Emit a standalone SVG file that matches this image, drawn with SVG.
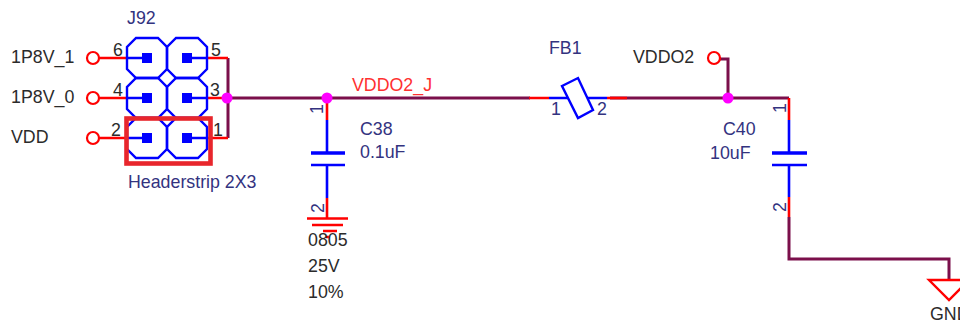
<svg xmlns="http://www.w3.org/2000/svg" width="960" height="320" viewBox="0 0 960 320">
<defs>
<style>
text{font-family:"Liberation Sans",Arial,sans-serif;font-size:17.8px}
.d{fill:#2b2b2b}.b{fill:#33337f}.r{fill:#ff3030}
.w{fill:none;stroke:#7b0f4b;stroke-width:3}
.p{fill:none;stroke:#ff0000;stroke-width:2.6}
.bl{fill:none;stroke:#0000ff;stroke-width:2.6}
.oct{fill:none;stroke:#0000ff;stroke-width:2.4}
.j{fill:#ff00ff}
.pad{fill:#0000ff}
</style>
<polygon id="o" class="oct" points="-11,-20 11,-20 20,-11 20,11 11,20 -11,20 -20,11 -20,-11"/>
</defs>
<rect width="960" height="320" fill="#ffffff"/>
<g id="connectors">
<path class="w" d="M228 58V138M228 98H530M610 98H789M728 98V59H720M789 217V259H949V280"/>
<path class="p" d="M99 58H127M99 98H127M99 138H127M207 58H228M207 98H228M207 138H228"/>
<path class="p" d="M529 98H549M607 98H627"/>
</g>
<g id="J92">
<use href="#o" x="147" y="58"/><use href="#o" x="187" y="58"/>
<use href="#o" x="147" y="98"/><use href="#o" x="187" y="98"/>
<use href="#o" x="147" y="138"/><use href="#o" x="187" y="138"/>
<path class="bl" d="M127 58H147M127 98H147M127 138H147M187 58H207M187 98H207M187 138H207"/>
<rect class="pad" x="142" y="53" width="10" height="10"/><rect class="pad" x="182" y="53" width="10" height="10"/>
<rect class="pad" x="142" y="93" width="10" height="10"/><rect class="pad" x="182" y="93" width="10" height="10"/>
<rect class="pad" x="142" y="133" width="10" height="10"/><rect class="pad" x="182" y="133" width="10" height="10"/>
<rect x="126.500" y="118.500" width="84" height="45" fill="none" stroke="#e8262c" stroke-width="4.600"/>
<text class="b" x="127" y="24">J92</text>
<text class="b" x="128" y="188">Headerstrip 2X3</text>
<text class="d" x="113" y="56">6</text><text class="d" x="113" y="96">4</text><text class="d" x="111" y="136">2</text>
<text class="d" x="211" y="56">5</text><text class="d" x="210" y="96">3</text><text class="d" x="213" y="136">1</text>
</g>
<g id="ports">
<circle cx="93" cy="58" r="6" fill="#fff" stroke="#ff0000" stroke-width="2.200"/>
<circle cx="93" cy="98" r="6" fill="#fff" stroke="#ff0000" stroke-width="2.200"/>
<circle cx="93" cy="138" r="6" fill="#fff" stroke="#ff0000" stroke-width="2.200"/>
<circle cx="714" cy="58" r="6" fill="#fff" stroke="#ff0000" stroke-width="2.200"/>
<text class="d" x="11" y="63">1P8V_1</text>
<text class="d" x="11" y="103">1P8V_0</text>
<text class="d" x="11" y="143">VDD</text>
<text class="d" x="633" y="63">VDDO2</text>
</g>
<g id="C38">
<path class="p" d="M327 98V120M327 198V218"/>
<path class="bl" d="M327 120V152M327 165V198"/>
<path d="M311 153H345" fill="none" stroke="#0000ff" stroke-width="3.400"/>
<path d="M311 165H345" fill="none" stroke="#0000ff" stroke-width="2.600"/>
<path d="M307 218.500H348M312 225H343M323 231H337M326 237H330" fill="none" stroke="#ff0000" stroke-width="2.600"/>
<text class="b" x="360" y="135">C38</text>
<text class="b" x="360" y="158">0.1uF</text>
<text class="b" transform="translate(323,114) rotate(-90)">1</text>
<text class="b" transform="translate(324,213) rotate(-90)">2</text>
<text class="d" x="308" y="246">0805</text>
<text class="d" x="308" y="272">25V</text>
<text class="d" x="308" y="298">10%</text>
</g>
<g id="FB1">
<path class="bl" d="M549 98H569M587 98H607"/>
<polygon points="562,86 578,78 593,110 578,118" fill="#fff" stroke="#0000ff" stroke-width="2.400"/>
<text class="b" x="549" y="54">FB1</text>
<text class="b" x="551" y="115">1</text>
<text class="b" x="597" y="115">2</text>
</g>
<g id="C40">
<path class="p" d="M789 98V120M789 197V217"/>
<path class="bl" d="M789 120V152M789 165V197"/>
<path d="M772 153H807" fill="none" stroke="#0000ff" stroke-width="3.400"/>
<path d="M772 165H807" fill="none" stroke="#0000ff" stroke-width="2.600"/>
<text class="b" x="723" y="135">C40</text>
<text class="b" x="710" y="159">10uF</text>
<text class="b" transform="translate(786,113) rotate(-90)">1</text>
<text class="b" transform="translate(786,212) rotate(-90)">2</text>
</g>
<g id="GND">
<polygon points="929,280 969,280 949,300" fill="none" stroke="#ff0000" stroke-width="2.400"/>
<text class="d" x="930" y="320">GND</text>
</g>
<g id="junctions">
<circle class="j" cx="227" cy="98" r="5.500"/>
<circle class="j" cx="327" cy="98" r="5.500"/>
<circle class="j" cx="728" cy="98" r="5.500"/>
</g>
<text id="net" class="r" x="352" y="91">VDDO2_J</text>
</svg>
